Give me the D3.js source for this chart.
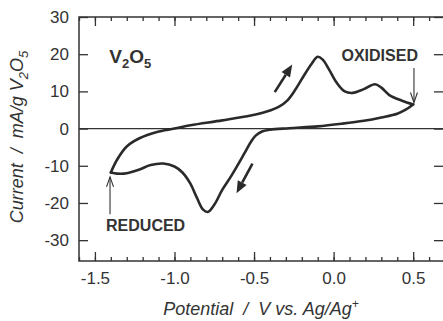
<!DOCTYPE html>
<html>
<head>
<meta charset="utf-8">
<script src="https://cdn.jsdelivr.net/npm/d3@7"></script>
<style>
	body { margin: 0; background: #fff; }
	svg { display: block; font-family: "Liberation Sans", Arial, sans-serif; }
	.pre { white-space: pre; }
</style>
</head>
<body>
<script>
var width = 443,
	height = 321;

// Anodic sweep (reduced -> oxidised)
var anodicV = [-1.40, -1.36, -1.30, -1.22, -1.11, -1.00, -0.90, -0.70, -0.52, -0.42, -0.34, -0.29,
	-0.24, -0.19, -0.14, -0.10, -0.07, -0.03, 0.02, 0.07, 0.12, 0.19, 0.26, 0.30, 0.35, 0.43, 0.50];
var anodicI = [-11.8, -8.3, -4.8, -2.6, -0.9, 0.0, 0.9, 2.2, 3.5, 4.6, 6.0, 7.6,
	10.5, 14.0, 17.3, 19.3, 18.6, 16.0, 12.3, 10.0, 9.6, 10.6, 11.9, 11.0, 9.0, 7.5, 6.5];

// Cathodic sweep (oxidised -> reduced)
var cathodicV = [0.50, 0.45, 0.40, 0.30, 0.19, 0.05, -0.10, -0.28, -0.40, -0.45, -0.49, -0.52, -0.56,
	-0.60, -0.65, -0.70, -0.75, -0.79, -0.82, -0.86, -0.90, -0.95, -1.00, -1.07, -1.15, -1.22, -1.30, -1.36, -1.40];
var cathodicI = [6.5, 5.0, 4.0, 3.0, 2.1, 1.3, 0.6, 0.1, -0.3, -0.8, -1.9, -3.6, -6.6,
	-9.6, -13.2, -16.5, -20.5, -22.4, -21.8, -18.5, -14.8, -11.8, -10.2, -9.4, -9.8, -11.0, -12.0, -12.1, -11.8];

var potentialTicks = [-1.5, -1.0, -0.5, 0.0, 0.5];
var potentialLabels = ["-1.5", "-1.0", "-0.5", "0.0", "0.5"];
var currentTicks = [-30, -20, -10, 0, 10, 20, 30];
var currentLabels = ["-30", "-20", "-10", "0", "10", "20", "30"];

var ink = "#333";

var x = d3.scaleLinear().domain([-1.6, 0.7]).range([79, 445]);
var y = d3.scaleLinear().domain([-35.6, 30]).range([261, 17]);

var minorTicks = d3.range(-16, 8).map(function(d) { return d / 10; });

var svg = d3.select("body").append("svg")
	.attr("width", width)
	.attr("height", height);

// frame
svg.append("rect")
	.attr("x", x.range()[0])
	.attr("y", y.range()[1])
	.attr("width", x.range()[1] - x.range()[0])
	.attr("height", y.range()[0] - y.range()[1])
	.attr("fill", "none")
	.attr("stroke", ink)
	.attr("stroke-width", 1.5);

// zero line
svg.append("line")
	.attr("x1", x.range()[0]).attr("x2", x.range()[1])
	.attr("y1", y(0)).attr("y2", y(0))
	.attr("stroke", ink)
	.attr("stroke-width", 1.2);

function styleAxis(g) {
	g.select(".domain").remove();
	g.selectAll("line").attr("stroke", ink).attr("stroke-width", 1.3);
	g.selectAll("text")
		.attr("fill", ink)
		.style("font-size", "17px")
		.style("font-family", "'Liberation Sans', Arial, sans-serif");
}

// bottom axis, major + minor
svg.append("g")
	.attr("transform", "translate(0," + y.range()[0] + ")")
	.call(d3.axisBottom(x).tickValues(potentialTicks).tickSize(-9).tickPadding(11)
		.tickFormat(function(d, i) { return potentialLabels[i]; }))
	.call(styleAxis);
svg.append("g")
	.attr("transform", "translate(0," + y.range()[0] + ")")
	.call(d3.axisBottom(x).tickValues(minorTicks).tickSize(-4).tickFormat(""))
	.call(styleAxis);

// top axis, mirrored
svg.append("g")
	.attr("transform", "translate(0," + y.range()[1] + ")")
	.call(d3.axisTop(x).tickValues(potentialTicks).tickSize(-9).tickFormat(""))
	.call(styleAxis);
svg.append("g")
	.attr("transform", "translate(0," + y.range()[1] + ")")
	.call(d3.axisTop(x).tickValues(minorTicks).tickSize(-4).tickFormat(""))
	.call(styleAxis);

// left and right axes
svg.append("g")
	.attr("transform", "translate(" + x.range()[0] + ",0)")
	.call(d3.axisLeft(y).tickValues(currentTicks).tickSize(-9).tickPadding(10)
		.tickFormat(function(d, i) { return currentLabels[i]; }))
	.call(styleAxis);
svg.append("g")
	.attr("transform", "translate(" + x.range()[1] + ",0)")
	.call(d3.axisRight(y).tickValues(currentTicks).tickSize(-11).tickFormat(""))
	.call(styleAxis);

// the voltammogram
var anodic = anodicV.map(function(v, i) { return [v, anodicI[i]]; });
var cathodic = cathodicV.map(function(v, i) { return [v, cathodicI[i]]; });

var line = d3.line()
	.x(function(d) { return x(d[0]); })
	.y(function(d) { return y(d[1]); })
	.curve(d3.curveCatmullRom.alpha(0.5));

[anodic, cathodic].forEach(function(branch) {
	svg.append("path")
		.datum(branch)
		.attr("d", line)
		.attr("fill", "none")
		.attr("stroke", "#2a2a2a")
		.attr("stroke-width", 2.6)
		.attr("stroke-linejoin", "round")
		.attr("stroke-linecap", "round");
});

// sweep direction arrows (thick, filled head)
function sweepArrow(v0, i0, v1, i1) {
	var x0 = x(v0), y0 = y(i0), x1 = x(v1), y1 = y(i1);
	var dx = x1 - x0, dy = y1 - y0, len = Math.sqrt(dx * dx + dy * dy);
	var ux = dx / len, uy = dy / len;
	var head = 12, half = 5;
	var bx = x1 - ux * head, by = y1 - uy * head;
	svg.append("line")
		.attr("x1", x0).attr("y1", y0).attr("x2", bx).attr("y2", by)
		.attr("stroke", "#2a2a2a").attr("stroke-width", 2.6);
	svg.append("path")
		.attr("d", "M" + x1 + "," + y1 +
			"L" + (bx - uy * half) + "," + (by + ux * half) +
			"L" + (bx + uy * half) + "," + (by - ux * half) + "Z")
		.attr("fill", "#2a2a2a");
}
sweepArrow(-0.37, 9.8, -0.26, 17.2);
sweepArrow(-0.51, -9.4, -0.61, -17.4);

// thin label arrows
function labelArrow(v, i0, i1) {
	var px = x(v), ya = y(i0), yb = y(i1);
	var dir = yb > ya ? 1 : -1;
	var g = svg.append("g").attr("stroke", ink).attr("stroke-width", 1.1).attr("fill", "none");
	g.append("line").attr("x1", px).attr("x2", px).attr("y1", ya).attr("y2", yb);
	g.append("path").attr("d", "M" + (px - 3.5) + "," + (yb - dir * 10) + "L" + px + "," + yb +
		"L" + (px + 3.5) + "," + (yb - dir * 10));
}
labelArrow(0.505, 16.3, 7.0);
labelArrow(-1.405, -23.0, -13.0);

// labels
svg.append("text")
	.attr("x", x(0.53)).attr("y", y(18.1))
	.attr("text-anchor", "end")
	.attr("fill", ink)
	.style("font-weight", "bold")
	.style("font-size", "16px")
	.text("OXIDISED");

svg.append("text")
	.attr("x", x(-1.43)).attr("y", y(-27.5))
	.attr("fill", ink)
	.style("font-weight", "bold")
	.style("font-size", "16px")
	.text("REDUCED");

var title = svg.append("text")
	.attr("x", x(-1.41)).attr("y", y(17.5))
	.attr("fill", ink)
	.style("font-weight", "bold")
	.style("font-size", "19px");
title.append("tspan").text("V");
title.append("tspan").attr("dy", 5).style("font-size", "13px").text("2");
title.append("tspan").attr("dy", -5).text("O");
title.append("tspan").attr("dy", 5).style("font-size", "13px").text("5");

// axis titles
var xt = svg.append("text")
	.attr("class", "pre")
	.attr("x", 261).attr("y", 315)
	.attr("text-anchor", "middle")
	.attr("fill", ink)
	.style("font-style", "italic")
	.style("font-size", "18px");
xt.append("tspan").text("Potential  /  V vs. Ag/Ag");
xt.append("tspan").attr("dy", -7).style("font-size", "12px").text("+");

var yt = svg.append("text")
	.attr("class", "pre")
	.attr("transform", "translate(23,137) rotate(-90)")
	.attr("text-anchor", "middle")
	.attr("fill", ink)
	.style("font-style", "italic")
	.style("font-size", "18px");
yt.append("tspan").text("Current  /  mA/g V");
yt.append("tspan").attr("dy", 5).style("font-size", "13px").text("2");
yt.append("tspan").attr("dy", -5).text("O");
yt.append("tspan").attr("dy", 5).style("font-size", "13px").text("5");
</script>
</body>
</html>
